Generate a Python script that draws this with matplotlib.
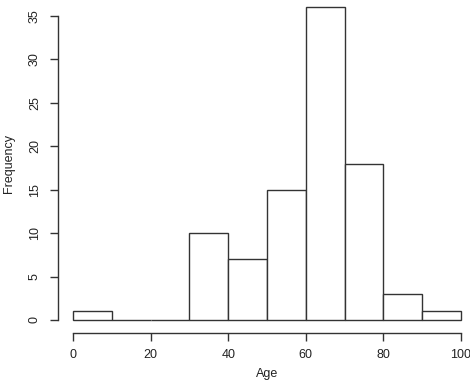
import matplotlib
matplotlib.use("Agg")
import matplotlib.pyplot as plt
import numpy as np

bin_edges = [0, 10, 20, 30, 40, 50, 60, 70, 80, 90, 100]
counts = [1, 0, 0, 10, 7, 15, 36, 18, 3, 1]
x_ticks = [0, 20, 40, 60, 80, 100]
y_ticks = [0, 5, 10, 15, 20, 25, 30, 35]

plt.rcParams['font.family'] = ['Liberation Sans', 'DejaVu Sans']

W, H = 470, 382
fig = plt.figure(figsize=(W / 100, H / 100), dpi=100)
left_px, right_px = 57.5, 476.5
bottom_px, top_px = 332.5, -5.2
ax = fig.add_axes([left_px / W, (H - bottom_px) / H,
                   (right_px - left_px) / W, (bottom_px - top_px) / H])

lefts = np.array(bin_edges[:-1])
widths = np.diff(bin_edges)
ax.bar(lefts, counts, width=widths, align='edge', facecolor='white',
       edgecolor='#333333', linewidth=1.0)

ax.set_xlim(-4, 104)
ax.set_ylim(-1.44, 37.44)
for s in ['top', 'right']:
    ax.spines[s].set_visible(False)
ax.spines['left'].set_bounds(0, 35)
ax.spines['bottom'].set_bounds(0, 100)
for s in ['left', 'bottom']:
    ax.spines[s].set_color('#333333')
    ax.spines[s].set_linewidth(1.0)
ax.set_xticks(x_ticks)
ax.set_yticks(y_ticks)
ax.set_yticklabels([str(v) for v in y_ticks], rotation=90, va='center')
ax.tick_params(direction='out', length=6, width=1.0, color='#333333',
               labelsize=9, labelcolor='#222222', pad=6)
ax.set_xlabel('Age', fontsize=9, color='#222222', labelpad=5)
ax.set_ylabel('Frequency', fontsize=9, color='#222222', labelpad=10)

fig.savefig('out.png', dpi=100)
